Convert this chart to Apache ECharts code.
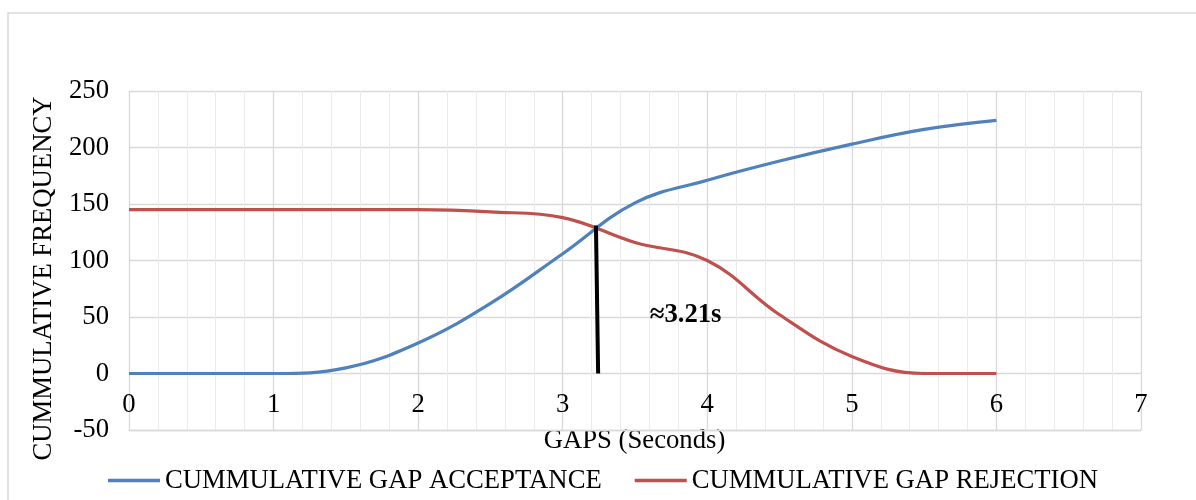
<!DOCTYPE html>
<html><head><meta charset="utf-8">
<script src="https://cdn.jsdelivr.net/npm/echarts@6/dist/echarts.min.js"></script>
<style>html,body{margin:0;padding:0;background:#fff}#c{width:1196px;height:500px}</style>
</head><body><div id="c"></div>
<script>
// ---- data ----
const gaps = [0, 0.5, 1, 1.5, 2, 2.5, 3, 3.5, 4, 4.5, 5, 5.5, 6];
const acceptance = [0, 0, 0, 5, 27, 62, 106, 151, 171, 188, 203, 216, 224];
const rejection = [145, 145, 145, 145, 145, 143, 138, 116, 100, 52, 15, 0, 0];
const seriesNames = ['CUMMULATIVE GAP ACCEPTANCE', 'CUMMULATIVE GAP REJECTION'];
const markerX = [3.23, 3.245];
const markerY = [131, 0];
const markerLabel = '≈3.21s';
const markerLabelPos = [3.85, 52];
const yTitle = 'CUMMULATIVE FREQUENCY';
const xTitle = 'GAPS (Seconds)';

const FONT = "'Liberation Serif', 'Times New Roman', serif";
const FS = 26.7;
const chart = echarts.init(document.getElementById('c'), null, {renderer: 'canvas'});
const pairs = (xs, ys) => xs.map((x, i) => [x, ys[i]]);

chart.setOption({
  animation: false,
  backgroundColor: '#fff',
  grid: {left: 129, top: 91, width: 1012, height: 339, containLabel: false},
  legend: {
    data: seriesNames,
    left: 108, top: 467, padding: 0,
    icon: 'rect', itemWidth: 52, itemHeight: 3.5, itemGap: 33,
    textStyle: {fontFamily: FONT, fontSize: FS, color: '#000', padding: [0, 0, 0, 0]}
  },
  xAxis: {
    type: 'value', min: 0, max: 7, interval: 1, position: 'bottom',
    axisLine: {show: true, onZero: false, lineStyle: {color: '#d9d9d9', width: 1.3}},
    axisTick: {show: false},
    minorTick: {show: false, splitNumber: 5},
    minorSplitLine: {show: true, lineStyle: {color: '#ebebeb', width: 1}},
    splitLine: {show: true, lineStyle: {color: '#d9d9d9', width: 1.3}},
    axisLabel: {fontFamily: FONT, fontSize: FS, color: '#000', margin: -39}
  },
  yAxis: {
    type: 'value', min: -50, max: 250, interval: 50,
    axisLine: {show: false, onZero: false}, axisTick: {show: false},
    splitLine: {show: true, lineStyle: {color: '#d9d9d9', width: 1.3}},
    axisLabel: {fontFamily: FONT, fontSize: FS, color: '#000', margin: 20}
  },
  graphic: [
    {type: 'rect', silent: true, z: -10, shape: {x: 8, y: 13, width: 1300, height: 600},
     style: {fill: 'none', stroke: '#d9d9d9', lineWidth: 1.5}},
    {type: 'text', x: 44, y: 278.5, rotation: Math.PI / 2,
     style: {text: yTitle, font: FS + 'px ' + FONT, fill: '#000', align: 'center', verticalAlign: 'middle'}},
    {type: 'text', x: 634.5, y: 441,
     style: {text: xTitle, font: FS + 'px ' + FONT, fill: '#000', align: 'center', verticalAlign: 'middle'}}
  ],
  series: [
    {name: seriesNames[0], type: 'line', data: pairs(gaps, acceptance), smooth: 0.4,
     showSymbol: false, symbol: 'none', lineStyle: {color: '#4F81BD', width: 3.2}, itemStyle: {color: '#4F81BD'}, z: 3},
    {name: seriesNames[1], type: 'line', data: pairs(gaps, rejection), smooth: 0.4,
     showSymbol: false, symbol: 'none', lineStyle: {color: '#C0504D', width: 3.2}, itemStyle: {color: '#C0504D'}, z: 2},
    {name: 'marker', type: 'line', data: pairs(markerX, markerY), showSymbol: false, symbol: 'none',
     lineStyle: {color: '#000', width: 4}, z: 4, silent: true},
    {name: 'markerLabel', type: 'scatter', data: [markerLabelPos], symbolSize: 1,
     itemStyle: {color: 'rgba(0,0,0,0)'}, silent: true, z: 5,
     label: {show: true, position: 'inside', formatter: markerLabel,
             fontFamily: FONT, fontSize: 26.7, fontWeight: 'bold', color: '#000',
             textBorderWidth: 0, opacity: 1}}
  ]
});
</script></body></html>
